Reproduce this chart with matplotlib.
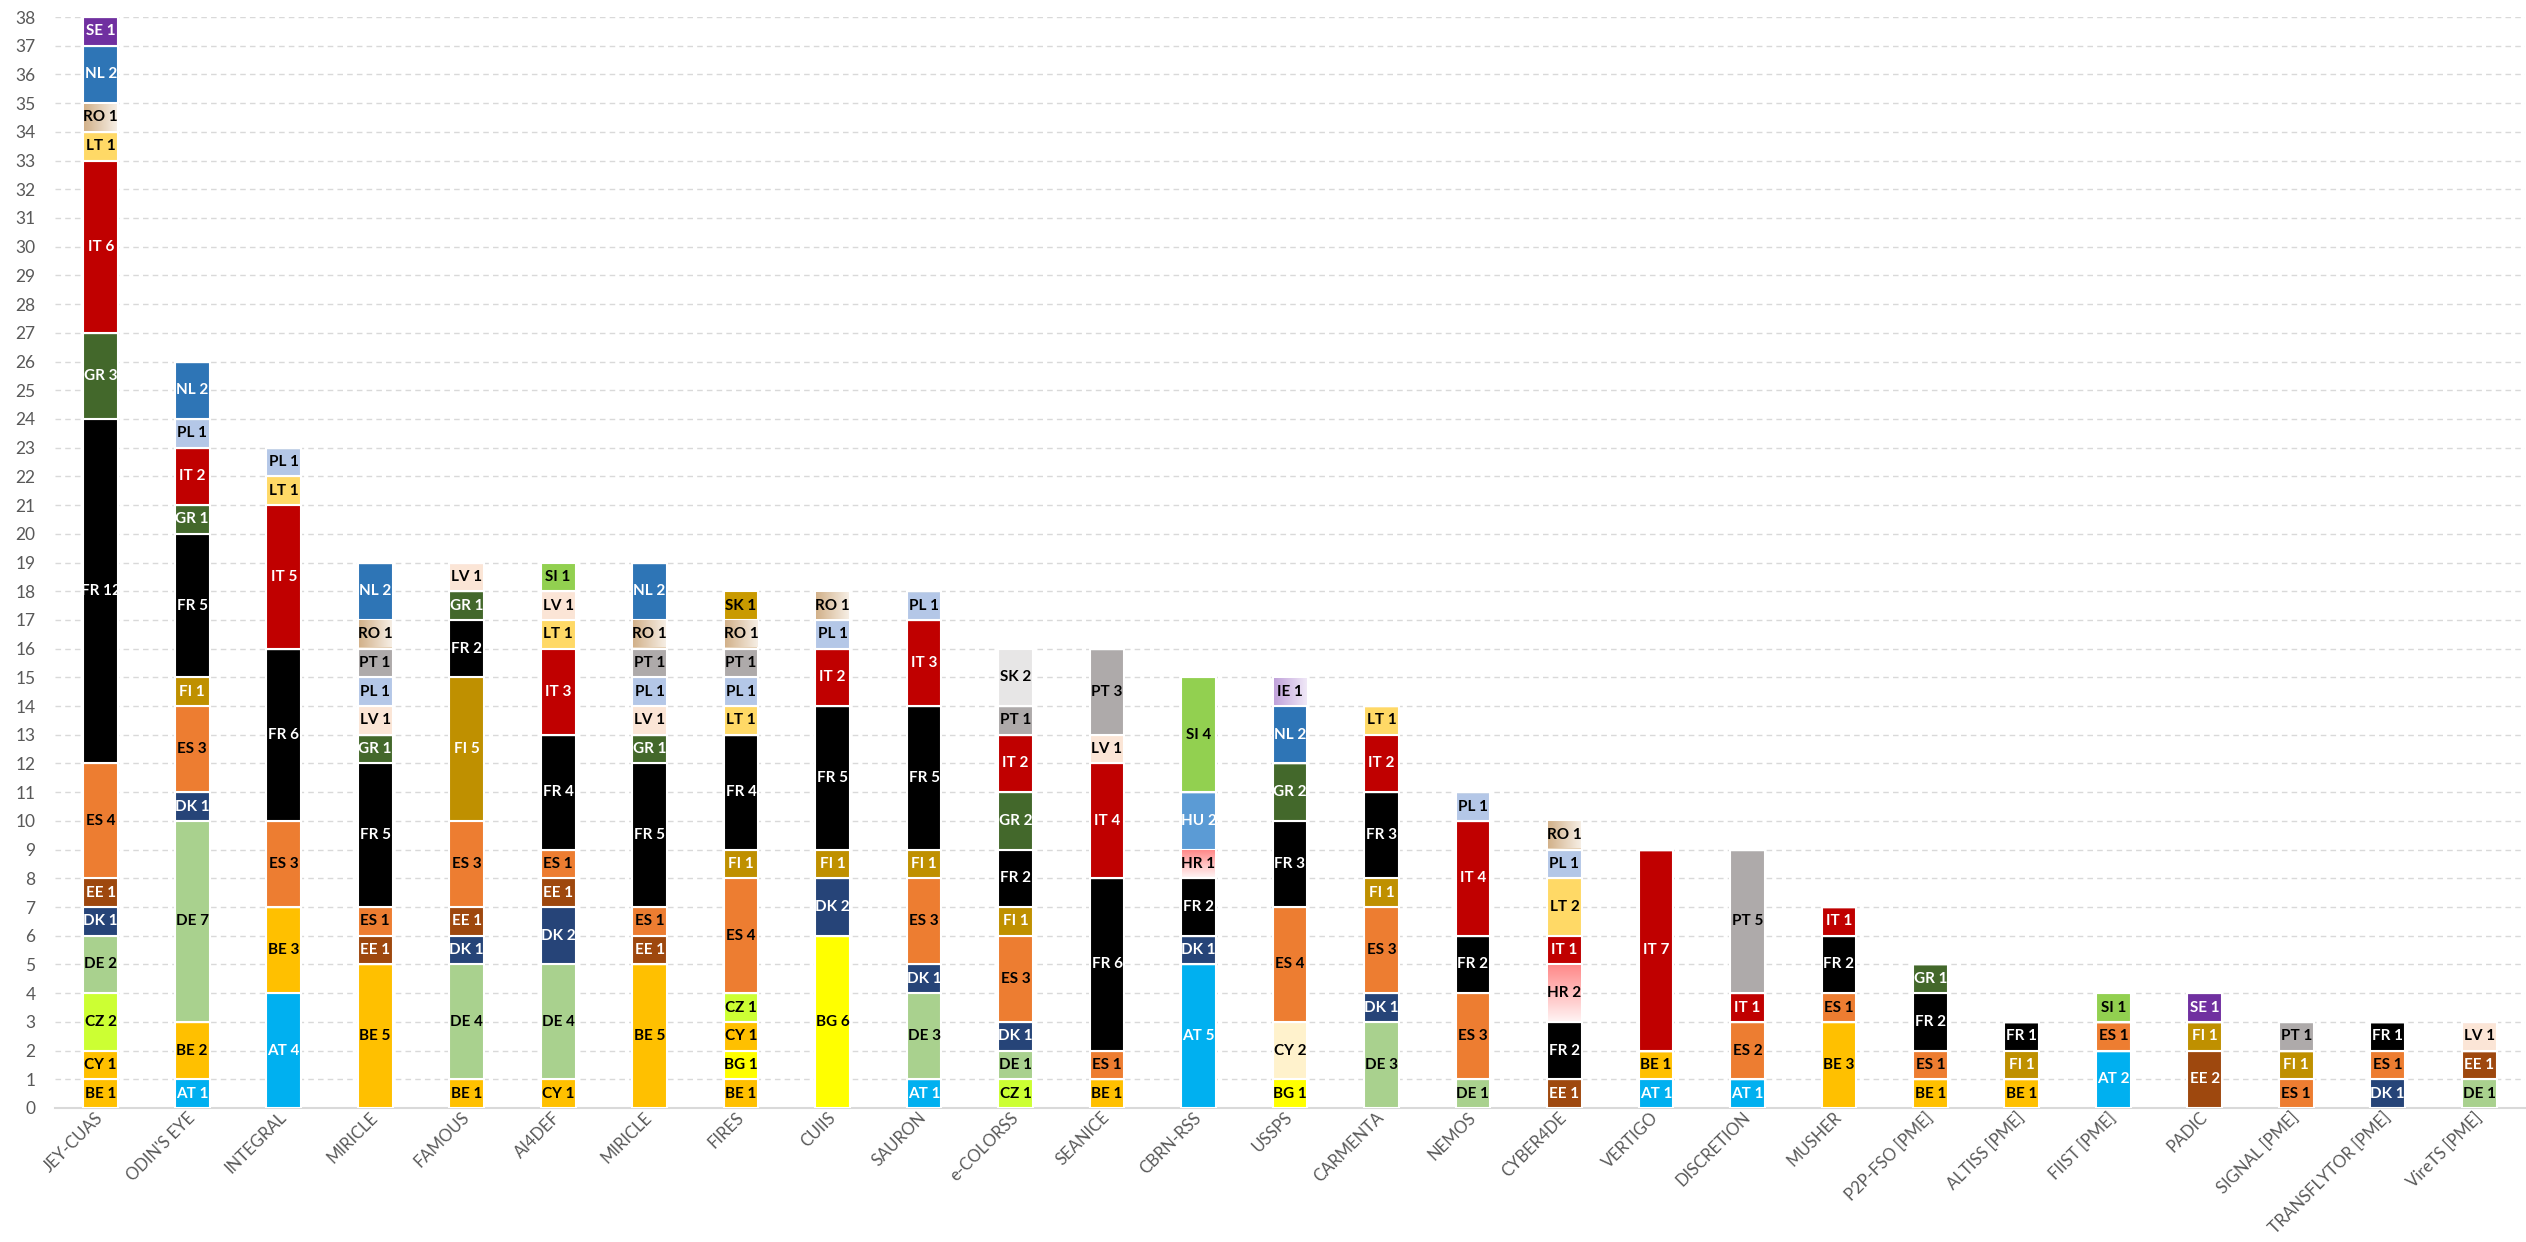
import numpy as np
import matplotlib
matplotlib.use("Agg")
import matplotlib.pyplot as plt
from matplotlib.colors import LinearSegmentedColormap

plt.rcParams['font.family'] = ['Lato', 'DejaVu Sans']

# projets (axe des x)
projects = ["JEY-CUAS", "ODIN'S EYE", "INTEGRAL", "MIRICLE", "FAMOUS", "AI4DEF", "MIRICLE",
            "FIRES", "CUIIS", "SAURON", "e-COLORSS", "SEANICE", "CBRN-RSS", "USSPS",
            "CARMENTA", "NEMOS", "CYBER4DE", "VERTIGO", "DISCRETION", "MUSHER",
            "P2P-FSO [PME]", "ALTISS [PME]", "FIIST [PME]", "PADIC", "SIGNAL [PME]",
            "TRANSFLYTOR [PME]", "VireTS [PME]"]

# nombre de participants par pays, un ordre d'empilement fixe (bas -> haut)
AT = [0, 1, 4, 0, 0, 0, 0, 0, 0, 1, 0, 0, 5, 0, 0, 0, 0, 1, 1, 0, 0, 0, 2, 0, 0, 0, 0]
BE = [1, 2, 3, 5, 1, 0, 5, 1, 0, 0, 0, 1, 0, 0, 0, 0, 0, 1, 0, 3, 1, 1, 0, 0, 0, 0, 0]
BG = [0, 0, 0, 0, 0, 0, 0, 1, 6, 0, 0, 0, 0, 1, 0, 0, 0, 0, 0, 0, 0, 0, 0, 0, 0, 0, 0]
CY = [1, 0, 0, 0, 0, 1, 0, 1, 0, 0, 0, 0, 0, 2, 0, 0, 0, 0, 0, 0, 0, 0, 0, 0, 0, 0, 0]
CZ = [2, 0, 0, 0, 0, 0, 0, 1, 0, 0, 1, 0, 0, 0, 0, 0, 0, 0, 0, 0, 0, 0, 0, 0, 0, 0, 0]
DE = [2, 7, 0, 0, 4, 4, 0, 0, 0, 3, 1, 0, 0, 0, 3, 1, 0, 0, 0, 0, 0, 0, 0, 0, 0, 0, 1]
DK = [1, 1, 0, 0, 1, 2, 0, 0, 2, 1, 1, 0, 1, 0, 1, 0, 0, 0, 0, 0, 0, 0, 0, 0, 0, 1, 0]
EE = [1, 0, 0, 1, 1, 1, 1, 0, 0, 0, 0, 0, 0, 0, 0, 0, 1, 0, 0, 0, 0, 0, 0, 2, 0, 0, 1]
ES = [4, 3, 3, 1, 3, 1, 1, 4, 0, 3, 3, 1, 0, 4, 3, 3, 0, 0, 2, 1, 1, 0, 1, 0, 1, 1, 0]
FI = [0, 1, 0, 0, 5, 0, 0, 1, 1, 1, 1, 0, 0, 0, 1, 0, 0, 0, 0, 0, 0, 1, 0, 1, 1, 0, 0]
FR = [12, 5, 6, 5, 2, 4, 5, 4, 5, 5, 2, 6, 2, 3, 3, 2, 2, 0, 0, 2, 2, 1, 0, 0, 0, 1, 0]
GR = [3, 1, 0, 1, 1, 0, 1, 0, 0, 0, 2, 0, 0, 2, 0, 0, 0, 0, 0, 0, 1, 0, 0, 0, 0, 0, 0]
HR = [0, 0, 0, 0, 0, 0, 0, 0, 0, 0, 0, 0, 1, 0, 0, 0, 2, 0, 0, 0, 0, 0, 0, 0, 0, 0, 0]
HU = [0, 0, 0, 0, 0, 0, 0, 0, 0, 0, 0, 0, 2, 0, 0, 0, 0, 0, 0, 0, 0, 0, 0, 0, 0, 0, 0]
IT = [6, 2, 5, 0, 0, 3, 0, 0, 2, 3, 2, 4, 0, 0, 2, 4, 1, 7, 1, 1, 0, 0, 0, 0, 0, 0, 0]
LT = [1, 0, 1, 0, 0, 1, 0, 1, 0, 0, 0, 0, 0, 0, 1, 0, 2, 0, 0, 0, 0, 0, 0, 0, 0, 0, 0]
LV = [0, 0, 0, 1, 1, 1, 1, 0, 0, 0, 0, 1, 0, 0, 0, 0, 0, 0, 0, 0, 0, 0, 0, 0, 0, 0, 1]
PL = [0, 1, 1, 1, 0, 0, 1, 1, 1, 1, 0, 0, 0, 0, 0, 1, 1, 0, 0, 0, 0, 0, 0, 0, 0, 0, 0]
PT = [0, 0, 0, 1, 0, 0, 1, 1, 0, 0, 1, 3, 0, 0, 0, 0, 0, 0, 5, 0, 0, 0, 0, 0, 1, 0, 0]
RO = [1, 0, 0, 1, 0, 0, 1, 1, 1, 0, 0, 0, 0, 0, 0, 0, 1, 0, 0, 0, 0, 0, 0, 0, 0, 0, 0]
NL = [2, 2, 0, 2, 0, 0, 2, 0, 0, 0, 0, 0, 0, 2, 0, 0, 0, 0, 0, 0, 0, 0, 0, 0, 0, 0, 0]
IE = [0, 0, 0, 0, 0, 0, 0, 0, 0, 0, 0, 0, 0, 1, 0, 0, 0, 0, 0, 0, 0, 0, 0, 0, 0, 0, 0]
SE = [1, 0, 0, 0, 0, 0, 0, 0, 0, 0, 0, 0, 0, 0, 0, 0, 0, 0, 0, 0, 0, 0, 0, 1, 0, 0, 0]
SI = [0, 0, 0, 0, 0, 1, 0, 0, 0, 0, 0, 0, 4, 0, 0, 0, 0, 0, 0, 0, 0, 0, 1, 0, 0, 0, 0]
SK = [0, 0, 0, 0, 0, 0, 0, 1, 0, 0, 2, 0, 0, 0, 0, 0, 0, 0, 0, 0, 0, 0, 0, 0, 0, 0, 0]

countries = ["AT", "BE", "BG", "CY", "CZ", "DE", "DK", "EE", "ES", "FI", "FR", "GR", "HR",
             "HU", "IT", "LT", "LV", "PL", "PT", "RO", "NL", "IE", "SE", "SI", "SK"]
series = [AT, BE, BG, CY, CZ, DE, DK, EE, ES, FI, FR, GR, HR, HU, IT, LT, LV, PL, PT, RO,
          NL, IE, SE, SI, SK]

colors = {"AT": "#00B0F0", "BE": "#FFC000", "BG": "#FFFF00", "CY": "#FFC000", "CZ": "#CCFF33",
          "DE": "#A9D18E", "DK": "#264478", "EE": "#9E480E", "ES": "#ED7D31", "FI": "#BF9000",
          "FR": "#000000", "GR": "#43682B", "HR": "#FFB3B3", "HU": "#5B9BD5", "IT": "#C00000",
          "LT": "#FFD966", "LV": "#FBE5D6", "PL": "#B4C7E7", "PT": "#AEAAAA", "RO": "#E4CFB4",
          "NL": "#2E75B6", "IE": "#D5C3E6", "SE": "#7030A0", "SI": "#92D050", "SK": "#C99A00"}
# quelques cases ont une autre couleur dans l'original
color_override = {("CY", "USSPS"): "#FFF2CC", ("SK", "e-COLORSS"): "#E7E6E6"}
white_text = ["AT", "DK", "EE", "FI", "FR", "GR", "HU", "IT", "NL", "SE"]
# remplissages en degrade : (couleur debut, couleur fin, vertical ?)
gradients = {"HR": ("#FFF2F2", "#FF8A8A", True),
             "RO": ("#D2B18A", "#F6EEE4", False),
             "IE": ("#C0A2DA", "#F0E8F7", False)}

fig = plt.figure(figsize=(25.26, 12.42), dpi=100)
ax = fig.add_axes([55 / 2526, 1 - 1108 / 1242, 2470 / 2526, (1108 - 17) / 1242])

x = np.arange(len(projects))
width = 0.38
bottom = np.zeros(len(projects))

for code, vals in zip(countries, series):
    vals = np.array(vals, dtype=float)
    cols = [color_override.get((code, p), colors[code]) for p in projects]
    bars = ax.bar(x, vals, width, bottom=bottom, color=cols, edgecolor="white",
                  linewidth=1.5, zorder=3)
    if code in gradients:
        c0, c1, vertical = gradients[code]
        cmap = LinearSegmentedColormap.from_list(code, [c0, c1])
        grad = np.linspace(0, 1, 64)
        grad = grad[:, None] if vertical else grad[None, :]
        for rect, v in zip(bars, vals):
            if v > 0:
                x0, y0 = rect.get_x(), rect.get_y()
                ax.imshow(grad, cmap=cmap, aspect="auto", origin="lower", zorder=3.1,
                          extent=(x0 + 0.01, x0 + width - 0.01, y0 + 0.04, y0 + v - 0.04))
    for i, v in enumerate(vals):
        if v > 0:
            ax.text(x[i], bottom[i] + v / 2, f"{code} {int(v)}", ha="center", va="center",
                    fontsize=11, fontweight="bold",
                    color="white" if code in white_text else "black", zorder=4)
    bottom += vals

ax.set_xlim(-0.5, len(projects) - 0.5)
ax.set_ylim(0, 38)
ax.set_yticks(range(0, 39))
ax.yaxis.grid(True, linestyle=(0, (4, 3)), color="#D9D9D9", linewidth=1.0, zorder=0)
ax.set_axisbelow(True)
for s in ["top", "right", "left"]:
    ax.spines[s].set_visible(False)
ax.spines["bottom"].set_color("#D9D9D9")
ax.spines["bottom"].set_linewidth(1.5)
ax.tick_params(axis="y", length=0, colors="#595959", labelsize=12.5, pad=14)
ax.set_xticks(x)
ax.set_xticklabels(projects, rotation=45, ha="right", va="center", rotation_mode="anchor")
ax.tick_params(axis="x", length=0, colors="#595959", labelsize=12, pad=5)

fig.savefig("out.png", dpi=100)
